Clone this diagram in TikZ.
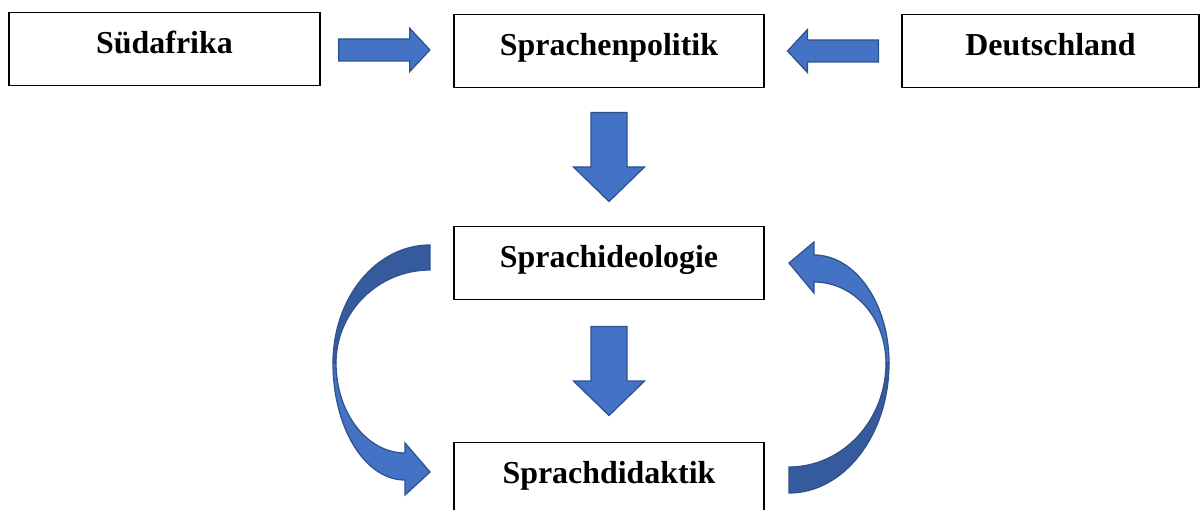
\documentclass[tikz,border=0pt]{standalone}
\usepackage{fontspec}
\setmainfont{Liberation Serif}
\usepackage{xcolor}
\usetikzlibrary{calc}

\definecolor{arrowblue}{HTML}{4472C4}
\definecolor{arrowline}{HTML}{2F528F}
\colorlet{arrowdark}{arrowblue!80!black}

\begin{document}
\begin{tikzpicture}[
  x=0.025cm, y=-0.025cm,
  font=\fontsize{22.7pt}{27pt}\selectfont\bfseries,
  % ---- boxes -------------------------------------------------------------
  textbox/.style={
    draw=black, line width=1.2pt, fill=white, inner sep=0pt,
    minimum height=1.825cm, text height=9pt, text depth=2.6pt},
  % ---- block arrows ------------------------------------------------------
  blk/.style={fill=arrowblue, draw=arrowline, line width=0.9pt, line join=miter},
  blkdark/.style={blk, fill=arrowdark},
  pics/blockarrow/.style args={#1/#2/#3/#4}{code={
    \draw[blk] (-#1,-#2) -- ({#1-#4},-#2) -- ({#1-#4},-#3) -- (#1,0)
      -- ({#1-#4},#3) -- ({#1-#4},#2) -- (-#1,#2) -- cycle;}},
]
\useasboundingbox (0,0) rectangle (1200,510);

% ---- boxes -----------------------------------------------------------------
\node[textbox, minimum width=7.775cm] (sued)      at (164.5,49)  {Südafrika};
\node[textbox, minimum width=7.75cm]  (politik)   at (609,51)    {Sprachenpolitik};
\node[textbox, minimum width=7.425cm] (deutsch)   at (1050.5,51) {Deutschland};
\node[textbox, minimum width=7.75cm]  (ideologie) at (609,263)   {Sprachideologie};
\node[textbox, minimum width=7.75cm]  (didaktik)  at (609,479)   {Sprachdidaktik};

% ---- straight block arrows -------------------------------------------------
\pic at ($(sued.east)!0.48!(politik.west)$) {blockarrow=45.5/11/21.5/20};
\pic[rotate=180] at ($(politik.east)!0.5!(deutsch.west)$) {blockarrow=45.5/11/21.5/20};
\pic[rotate=-90] at ($(politik.south)!0.5!(ideologie.north)$) {blockarrow=44.5/18/35.5/34.5};
\pic[rotate=-90] at ($(ideologie.south)!0.5!(didaktik.north)$) {blockarrow=44.5/18/35.5/34.5};

% ---- curved arrow, left: ideologie -> didaktik ----------------------------
% tail half is drawn darker, as the back of the band
\draw[blkdark] (430,245) .. controls (376,245) and (333,298) .. (333,363)
  -- (336,363) .. controls (336,312) and (378,270) .. (430,270) -- cycle;
\draw[blk] (333,363) .. controls (333,428) and (365,480) .. (405,480)
  -- (405,495) -- (430,472) -- (405,443) -- (405,453)
  .. controls (367,453) and (336,413) .. (336,363) -- cycle;

% ---- curved arrow, right: didaktik -> ideologie ---------------------------
\draw[blkdark] (789,493) .. controls (844,493) and (889,435) .. (889,363)
  -- (886,363) .. controls (886,420) and (843,467) .. (789,467) -- cycle;
\draw[blk] (889,363) .. controls (889,303) and (855,255) .. (814,255)
  -- (814,242) -- (789,263) -- (814,293) -- (814,282)
  .. controls (854,282) and (886,318) .. (886,363) -- cycle;

\end{tikzpicture}
\end{document}
